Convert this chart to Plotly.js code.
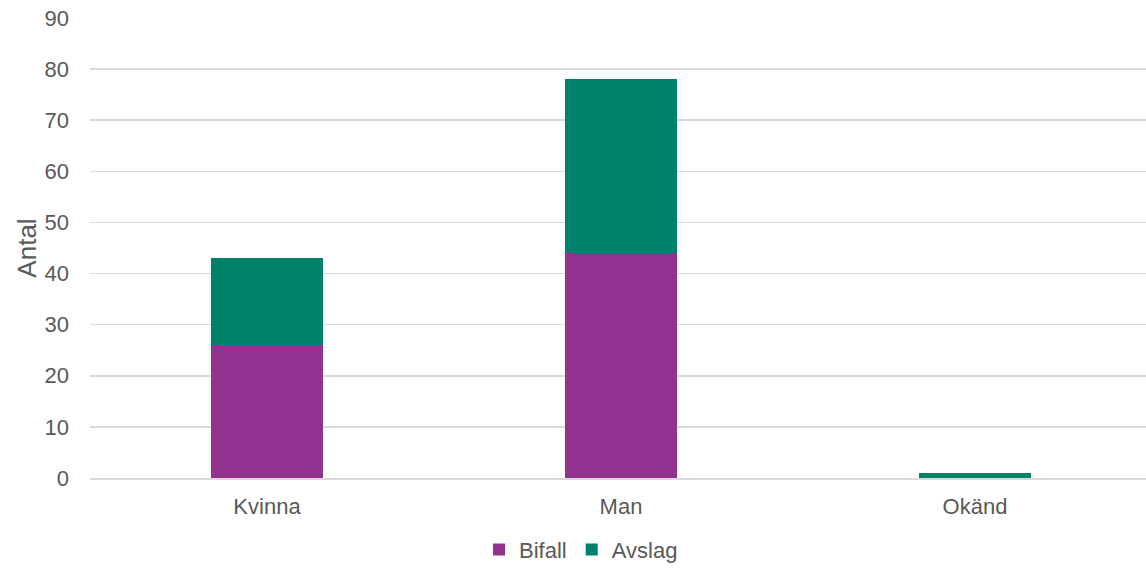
<!DOCTYPE html>
<html><head><meta charset="utf-8">
<script src="https://cdn.plot.ly/plotly-3.0.1.min.js"></script>
<style>html,body{margin:0;padding:0;background:#fff;}#chart{width:1146px;height:571px;}</style>
</head><body><div id="chart"></div>
<script>
const categories = ["Kvinna", "Man", "Okänd"];
const bifall = [26, 44, 0];
const avslag = [17, 34, 1];
const yTicks = [0, 10, 20, 30, 40, 50, 60, 70, 80, 90];

const font = {family: "Liberation Sans, Arial, sans-serif", size: 22, color: "#595959"};
const traces = [
  {type: "bar", name: "Bifall", x: categories, y: bifall, marker: {color: "#92328E"}, width: 0.314},
  {type: "bar", name: "Avslag", x: categories, y: avslag, marker: {color: "#00826A"}, width: 0.314}
];
const layout = {
  width: 1146, height: 571,
  barmode: "stack",
  margin: {l: 90, r: 0, t: 18, b: 93},
  paper_bgcolor: "#fff", plot_bgcolor: "#fff",
  font: font,
  xaxis: {range: [-0.5, 2.483], automargin: false, showgrid: false, zeroline: false, showline: true, linecolor: "#D9D9D9", linewidth: 1.5, ticks: "", tickfont: font, ticklabelstandoff: 8},
  yaxis: {range: [0, 90], automargin: false, tickvals: yTicks, showgrid: true, gridcolor: "#D9D9D9", gridwidth: 1.5, zeroline: false, showline: false, ticks: "", tickfont: font, ticklabelstandoff: 20,
    title: {text: "Antal", font: {family: font.family, size: 26, color: "#595959"}, standoff: 0}},
  legend: {orientation: "h", x: 0.465, xanchor: "center", y: -0.156, yanchor: "middle", font: font, itemwidth: 20, tracegroupgap: 0, traceorder: "normal"},
  showlegend: true
};
Plotly.newPlot("chart", traces, layout, {displayModeBar: false, staticPlot: true});
</script></body></html>
